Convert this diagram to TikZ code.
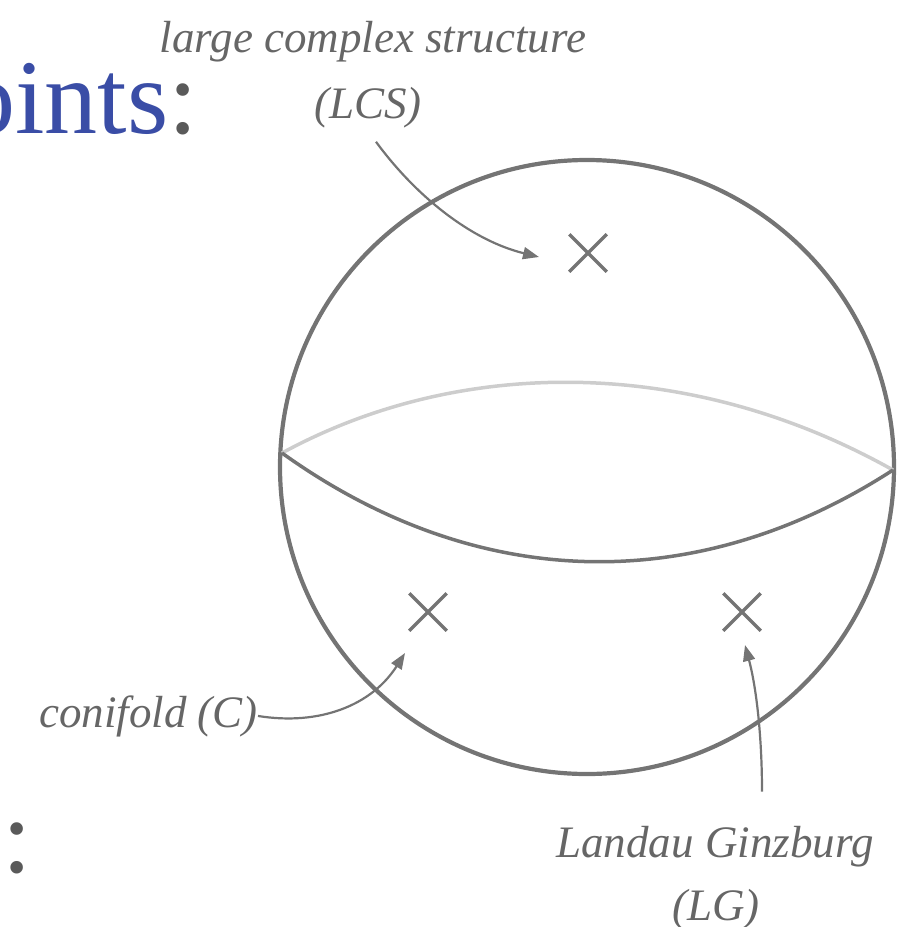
\documentclass[tikz,border=0pt]{standalone}
\usepackage{fontspec}
\setmainfont{Liberation Serif}
\usepackage{tikz}
\usetikzlibrary{arrows.meta, shapes.misc}
\usepackage{xcolor}
\definecolor{sphline}{HTML}{747474}
\definecolor{sphback}{HTML}{CDCDCD}
\definecolor{sphtext}{HTML}{666666}
\definecolor{slideblue}{HTML}{3A4DA6}
\definecolor{slidegray}{HTML}{5A5A5A}

\begin{document}
\begin{tikzpicture}[x=1pt, y=-1pt,
    lbl/.style={text=sphtext, font=\fontsize{45}{52}\selectfont\itshape, inner sep=0pt, anchor=base},
    heading/.style={font=\fontsize{106}{116}\selectfont, inner sep=0pt, anchor=base east},
    crossmark/.style={cross out, draw=sphline, line width=3.5pt, minimum size=34pt, inner sep=0pt},
    pointer/.style={draw=sphline, line width=2.2pt, -{Triangle[length=16pt, width=12pt]}}]
  \clip (0,0) rectangle (906,927);

  % slide text cut by the frame
  \node[heading, text=slideblue] (points) at (198,133) {points\textcolor{slidegray}{:}};
  \node[heading, text=slidegray] (items) at (32,872) {s:};

  % the sphere and its equator
  \draw[sphline, line width=4.2pt] (587,467) circle[radius=307];
  \coordinate (eqw) at (282,453);
  \coordinate (eqe) at (893,470);
  \draw[sphback, line width=3.5pt] (eqw) .. controls (460,356) and (690,356) .. (eqe);
  \draw[sphline, line width=3.5pt] (eqw) .. controls (480,595) and (700,595) .. (eqe);

  % special points
  \foreach \name/\x/\y in {xlcs/588/253, xc/428/612, xlg/742/612}
    \node[crossmark] (\name) at (\x,\y) {};

  % labels
  \node[lbl] (lcs) at (373,52) {large complex structure};
  \node[lbl] (lcsabbr) at (368,118) {(LCS)};
  \node[lbl, anchor=base east] (conifold) at (258,727) {conifold (C)};
  \node[lbl] (lgname) at (715,857) {Landau Ginzburg};
  \node[lbl] (lgabbr) at (716,920) {(LG)};

  \coordinate (lcstip) at (539,257);
  \coordinate (ctip) at (405,653);
  \coordinate (lgtip) at (745,645);
  \draw[pointer] ([xshift=8pt, yshift=-14pt]lcsabbr.south) .. controls (415,195) and (470,240) .. (lcstip);
  \draw[pointer] (conifold.east) .. controls (320,726) and (372,705) .. (ctip);
  \draw[pointer] ([xshift=47pt, yshift=34pt]lgname.north) .. controls (762,740) and (757,690) .. (lgtip);
\end{tikzpicture}
\end{document}
